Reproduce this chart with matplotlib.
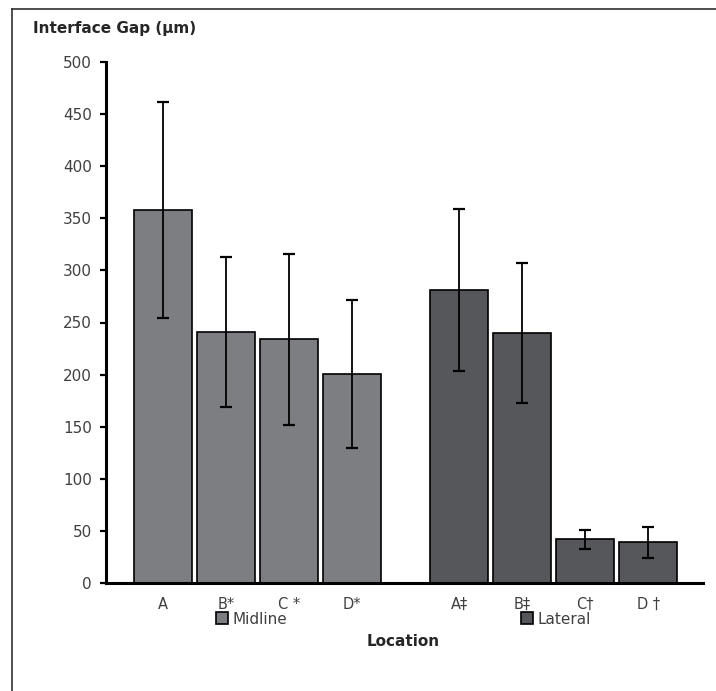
import matplotlib
matplotlib.use("Agg")
import matplotlib.pyplot as plt
from matplotlib.patches import Patch
from matplotlib.lines import Line2D

# Data
midline_labels = ["A", "B*", "C *", "D*"]
lateral_labels = ["A‡", "B‡", "C†", "D †"]
midline_values = [358, 241, 234, 201]
midline_errors = [104, 72, 82, 71]
lateral_values = [281, 240, 42, 39]
lateral_errors = [78, 67, 9, 15]
yticks = [0, 50, 100, 150, 200, 250, 300, 350, 400, 450, 500]

W, H = 716, 691
fig = plt.figure(figsize=(W / 100, H / 100), dpi=100)
ax = fig.add_axes([106 / W, (H - 583) / H, (703 - 106) / W, (583 - 62) / H])

mid_x = [0, 1, 2, 3]
lat_x = [4.7, 5.7, 6.7, 7.7]
mid_color = "#7d7e82"
lat_color = "#56575b"
bw = 0.92
ekw = dict(ecolor="black", elinewidth=1.3, capsize=4, capthick=1.6)

ax.bar(mid_x, midline_values, width=bw, color=mid_color, edgecolor="black",
       linewidth=1.2, yerr=midline_errors, error_kw=ekw, zorder=2)
ax.bar(lat_x, lateral_values, width=bw, color=lat_color, edgecolor="black",
       linewidth=1.2, yerr=lateral_errors, error_kw=ekw, zorder=2)

ax.set_xlim(-0.905, 8.57)
ax.set_ylim(0, 500)
ax.set_yticks(yticks)
ax.set_xticks(mid_x + lat_x)
ax.set_xticklabels(midline_labels + lateral_labels)

for s in ["top", "right"]:
    ax.spines[s].set_visible(False)
for s in ["left", "bottom"]:
    ax.spines[s].set_linewidth(2.2)
    ax.spines[s].set_color("black")

ax.tick_params(axis="y", direction="out", length=4, width=1.6, pad=6,
               labelsize=11, labelcolor="#404040")
ax.tick_params(axis="x", length=0, pad=10, labelsize=10.5, labelcolor="#404040")

fig.text(33 / W, 1 - 28 / H, "Interface Gap (µm)", fontsize=11, fontweight="bold",
         color="#262626", ha="left", va="center")
fig.text(403 / W, 1 - 641 / H, "Location", fontsize=11, fontweight="bold",
         color="#262626", ha="center", va="center")

for lbl, col, xpx in [("Midline", mid_color, 216), ("Lateral", lat_color, 521)]:
    h = Patch(facecolor=col, edgecolor="black", linewidth=1.2, label=lbl)
    fig.legend(handles=[h], loc="center left", bbox_to_anchor=(xpx / W, 1 - 619 / H),
               frameon=False, borderpad=0, borderaxespad=0, handlelength=0.8,
               handleheight=0.8, handletextpad=0.25, prop={"size": 11},
               labelcolor="#404040")

# thin frame lines (top and left) as in the reference image
fig.add_artist(Line2D([12 / W, 1], [1 - 9 / H, 1 - 9 / H], color="#303030", lw=1.2,
                      transform=fig.transFigure))
fig.add_artist(Line2D([12 / W, 12 / W], [1 - 9 / H, 0], color="#303030", lw=1.2,
                      transform=fig.transFigure))

fig.savefig("out.png", dpi=100)
